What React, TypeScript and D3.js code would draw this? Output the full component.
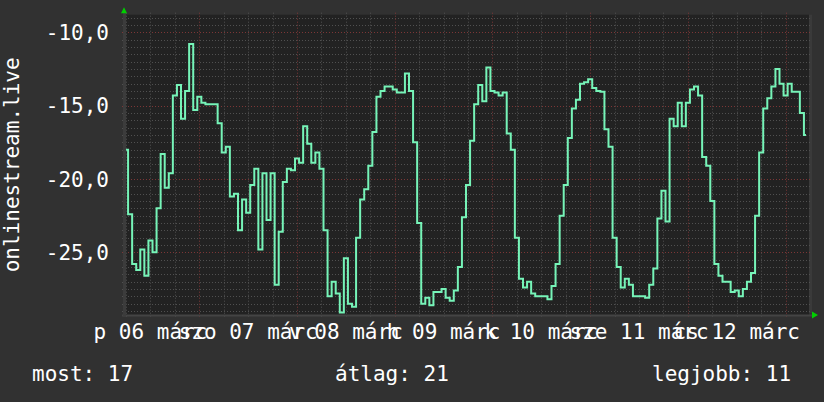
import React, { useEffect, useRef } from 'react';
import * as d3 from 'd3';

// hourly samples, starting 2020-03-06 05:30 (rank shown as negative)
const startTime = new Date(2020, 2, 6, 5, 30);
const endTime = new Date(2020, 2, 13, 5, 30);

const rankValues = [
  -18.0, -22.4, -25.8, -26.2, -24.8, -26.6, -24.2, -25.0, -22.0, -18.3, -20.6, -19.6,
  -14.3, -13.6, -15.9, -14.0, -10.8, -15.3, -14.4, -14.8, -14.9, -14.9, -14.9, -16.2,
  -18.2, -17.8, -21.2, -21.0, -23.5, -21.4, -22.3, -20.4, -19.3, -24.8, -19.6, -22.8,
  -19.6, -27.2, -23.6, -20.2, -19.3, -19.4, -18.6, -18.9, -16.4, -17.6, -18.9, -18.2,
  -19.3, -23.5, -28.0, -27.0, -27.8, -29.1, -25.4, -28.5, -28.7, -24.0, -21.4, -20.7,
  -19.1, -16.8, -14.4, -14.0, -13.7, -13.7, -13.9, -14.1, -14.1, -12.8, -14.0, -17.5,
  -23.0, -28.5, -28.1, -28.6, -27.7, -27.7, -27.5, -28.1, -28.3, -27.6, -26.0, -22.6,
  -20.4, -17.4, -14.9, -13.6, -14.7, -12.4, -14.0, -14.1, -14.3, -14.1, -16.9, -18.0,
  -24.0, -26.8, -27.4, -27.0, -27.8, -28.0, -28.0, -28.0, -28.2, -27.3, -25.8, -22.5,
  -20.4, -17.2, -15.2, -14.6, -13.5, -13.4, -13.2, -13.8, -14.0, -14.05, -16.6, -17.8,
  -24.0, -26.0, -27.4, -26.8, -27.2, -28.0, -28.0, -28.0, -28.1, -27.2, -26.1, -22.7,
  -20.8, -22.9, -15.9, -16.4, -14.8, -16.4, -14.8, -13.9, -13.7, -14.3, -18.5, -19.1,
  -21.5, -25.8, -26.6, -27.0, -27.0, -27.7, -27.6, -28.0, -27.5, -27.0, -26.4, -22.5,
  -18.2, -15.2, -14.5, -13.7, -12.5, -13.5, -14.3, -13.5, -14.05, -14.05, -15.5, -17.0,
];

const yTicks = [-25, -20, -15, -10];
const dayLabels = ['p 06 márc', 'szo 07 márc', 'v 08 márc', 'h 09 márc', 'k 10 márc', 'sze 11 márc', 'cs 12 márc'];
const yTitle = 'onlinestream.live';
const legendItems = ['most: 17', 'átlag: 21', 'legjobb: 11'];

const FONT = '"DejaVu Sans Mono", monospace';

const App: React.FC = () => {
  const svgRef = useRef<SVGSVGElement>(null);

  useEffect(() => {
    if (!svgRef.current) return;
    const svg = d3.select(svgRef.current);
    svg.selectAll('*').remove();

    const width = 824;
    const height = 402;
    const left = 124;
    const right = 808;
    const top = 14.7;
    const bottom = 315;

    const x = d3.scaleTime().domain([startTime, endTime]).range([left, right]);
    const y = d3.scaleLinear().domain([-29.27, -8.8]).range([bottom, top]);

    svg.append('rect').attr('width', width).attr('height', height).attr('fill', '#313131');
    svg.append('rect').attr('x', left).attr('y', top).attr('width', right - left + 1).attr('height', bottom - top).attr('fill', '#222222');
    svg.append('rect').attr('x', right + 1).attr('y', top).attr('width', 3).attr('height', bottom - top - 2).attr('fill', '#3a3a3a');

    const grid = svg.append('g');

    // horizontal grid, every 0.5
    const hLines = d3.range(-29, -8.9, 0.5);
    grid.selectAll('line.h')
      .data(hLines)
      .enter()
      .append('line')
      .attr('x1', left - 2)
      .attr('x2', right + 4)
      .attr('y1', (d) => Math.round(y(d)) + 0.5)
      .attr('y2', (d) => Math.round(y(d)) + 0.5)
      .attr('stroke', (d) => (d % 5 === 0 ? '#7c3636' : '#505050'))
      .attr('stroke-dasharray', '1,2');

    // vertical grid, every 6 hours; midnight is major
    const vLines = d3.timeHour.every(6)!.range(startTime, endTime);
    grid.selectAll('line.v')
      .data(vLines)
      .enter()
      .append('line')
      .attr('x1', (d) => Math.round(x(d)) + 0.5)
      .attr('x2', (d) => Math.round(x(d)) + 0.5)
      .attr('y1', top - 2)
      .attr('y2', bottom + 2)
      .attr('stroke', (d) => (d.getHours() === 0 ? '#7c3636' : '#505050'))
      .attr('stroke-dasharray', '1,2');

    // axes
    svg.append('line').attr('x1', left - 2).attr('x2', right + 4).attr('y1', bottom + 0.5).attr('y2', bottom + 0.5).attr('stroke', '#444').attr('stroke-width', 2);
    svg.append('line').attr('x1', left + 0.5).attr('x2', left + 0.5).attr('y1', top - 2).attr('y2', bottom + 2).attr('stroke', '#3c3c3c').attr('stroke-width', 3);

    // arrows
    svg.append('path').attr('d', `M${left - 3},${top - 1.5} L${left + 3},${top - 1.5} L${left},${top - 7.5} Z`).attr('fill', '#00d000');
    svg.append('path').attr('d', `M${right + 4},${bottom - 3.5} L${right + 4},${bottom + 3.5} L${right + 10},${bottom} Z`).attr('fill', '#00d000');

    const line = d3
      .line<number>()
      .x((_, i) => x(d3.timeMinute.offset(startTime, i * 60 + 30)))
      .y((d) => y(d))
      .curve(d3.curveStep);

    svg.append('path')
      .datum(rankValues)
      .attr('fill', 'none')
      .attr('stroke', '#76f4b8')
      .attr('stroke-width', 2)
      .attr('stroke-linejoin', 'miter')
      .attr('d', line as any);

    const text = svg.append('g').attr('font-family', FONT).attr('font-size', 21).attr('fill', '#ffffff');

    text.selectAll('text.yt')
      .data(yTicks)
      .enter()
      .append('text')
      .attr('x', 109)
      .attr('y', (d) => y(d) + 7.5)
      .attr('text-anchor', 'end')
      .text((d) => d3.format('.1f')(d).replace('.', ',').replace('−', '-'));

    // day labels centred at noon
    const noons = d3.timeDay.range(d3.timeDay.floor(startTime), endTime).map((d) => d3.timeHour.offset(d, 12));
    text.selectAll('text.xt')
      .data(dayLabels)
      .enter()
      .append('text')
      .attr('x', (_, i) => x(noons[i]))
      .attr('y', 339)
      .attr('text-anchor', 'middle')
      .text((d) => d);

    text.append('text')
      .attr('transform', `translate(19,${(top + bottom) / 2}) rotate(-90)`)
      .attr('text-anchor', 'middle')
      .text(yTitle);

    const legendX = [32, 335, 652];
    text.selectAll('text.lg')
      .data(legendItems)
      .enter()
      .append('text')
      .attr('x', (_, i) => legendX[i])
      .attr('y', 381)
      .text((d) => d);
  }, []);

  return <svg ref={svgRef} width={824} height={402} style={{ position: 'absolute', left: 0, top: 0 }} />;
};

export default App;
